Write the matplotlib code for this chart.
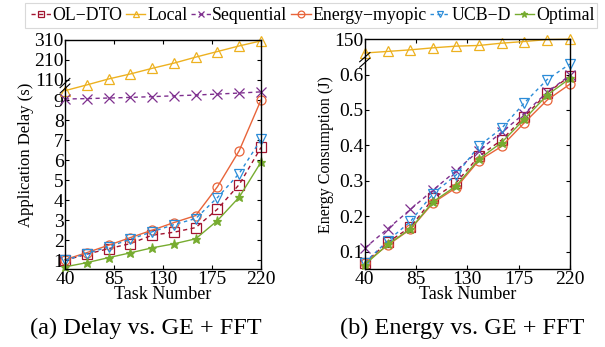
import numpy as np
import matplotlib
matplotlib.use('Agg')
import matplotlib.pyplot as plt
from matplotlib.patches import Rectangle

plt.rcParams['font.family'] = ['Liberation Serif', 'DejaVu Serif']
plt.rcParams['mathtext.fontset'] = 'stix'

tasks = [40, 60, 80, 100, 120, 140, 160, 180, 200, 220]
xticks = [40, 85, 130, 175, 220]

names = ['OL\u2212DTO', 'Local', 'Sequential', 'Energy\u2212myopic', 'UCB\u2212D', 'Optimal']

# delay (s)
delay_oldto = [1.0, 1.3, 1.58, 1.83, 2.25, 2.4, 2.63, 3.55, 4.78, 6.63]
delay_local = [56, 85, 115, 140, 168, 194, 224, 252, 280, 305]
delay_seq = [14, 16, 19, 22, 26, 30, 34, 39, 44, 50]
delay_myopic = [1.03, 1.38, 1.75, 2.13, 2.5, 2.88, 3.23, 4.67, 6.47, 9.0]
delay_ucb = [1.0, 1.33, 1.67, 2.05, 2.42, 2.78, 3.08, 4.13, 5.33, 7.03]
delay_opt = [0.67, 0.88, 1.13, 1.37, 1.62, 1.82, 2.07, 2.98, 4.15, 5.9]
delay_ticks = [1, 2, 3, 4, 5, 6, 7, 8, 9, 110, 210, 310]

# energy (J)
energy_oldto = [0.068, 0.126, 0.169, 0.25, 0.294, 0.369, 0.415, 0.481, 0.548, 0.596]
energy_local = [111, 115.5, 120, 125.7, 130.4, 132.3, 138.8, 143.5, 149, 150]
energy_seq = [0.110, 0.164, 0.219, 0.274, 0.328, 0.385, 0.437, 0.49, 0.55, 0.598]
energy_myopic = [0.067, 0.118, 0.163, 0.238, 0.28, 0.357, 0.397, 0.464, 0.528, 0.573]
energy_ucb = [0.069, 0.130, 0.185, 0.264, 0.316, 0.398, 0.448, 0.52, 0.586, 0.634]
energy_opt = [0.063, 0.12, 0.164, 0.241, 0.285, 0.361, 0.408, 0.474, 0.542, 0.589]
energy_ticks = [0.1, 0.2, 0.3, 0.4, 0.5, 0.6, 150]

styles = [
    dict(color='#A2142F', ls=(0, (3, 2.5)), marker='s', mfc='none'),
    dict(color='#EDB120', ls='-', marker='^', mfc='none'),
    dict(color='#7E2F8E', ls=(0, (3, 2.5)), marker='x', mfc='none'),
    dict(color='#E8643A', ls='-', marker='o', mfc='none'),
    dict(color='#2B8CD8', ls=(0, (2.5, 2.5)), marker='v', mfc='none'),
    dict(color='#77AC30', ls='-', marker='*', mfc='#77AC30'),
]


def broken_scale(v_knots, f_knots):
    fwd = lambda v: np.interp(v, v_knots, f_knots)
    inv = lambda f: np.interp(f, f_knots, v_knots)
    return fwd, inv


fig = plt.figure(figsize=(6.05, 3.47), dpi=100)
ax1 = fig.add_axes([0.1074, 0.224, 0.324, 0.661])
ax2 = fig.add_axes([0.603, 0.224, 0.339, 0.663])

delay_sets = [delay_oldto, delay_local, delay_seq, delay_myopic, delay_ucb, delay_opt]
energy_sets = [energy_oldto, energy_local, energy_seq, energy_myopic, energy_ucb, energy_opt]

handles = []
for name, st, d, e in zip(names, styles, delay_sets, energy_sets):
    h, = ax1.plot(tasks, d, lw=1.0, ms=6.5, mew=0.9, label=name, clip_on=False, **st)
    ax2.plot(tasks, e, lw=1.0, ms=6.5, mew=0.9, clip_on=False, **st)
    handles.append(h)

ax1.set_yscale('function', functions=broken_scale([0, 9, 110, 310, 5000], [0, 9, 10, 12, 59]))
ax1.set_ylim(0.55, 310)
ax1.set_yticks(delay_ticks)
ax1.set_yticklabels([str(t) for t in delay_ticks])
ax1.set_ylabel('Application Delay (s)', fontsize=12, labelpad=0)

ax2.set_yscale('function', functions=broken_scale([0, 0.63, 100, 150, 5000], [0, 0.63, 0.65, 0.70, 5.6]))
ax2.set_ylim(0.05, 150)
ax2.set_yticks(energy_ticks)
ax2.set_yticklabels(['0.1', '0.2', '0.3', '0.4', '0.5', '0.6', '150'])
ax2.set_ylabel('Energy Consumption (J)', fontsize=11.5, labelpad=0)

for ax, brk in ((ax1, 0.80), (ax2, 0.91)):
    ax.set_xlim(40, 220)
    ax.set_xticks(xticks)
    ax.set_xlabel('Task Number', fontsize=13, labelpad=-1)
    ax.tick_params(direction='in', top=True, right=True, labelsize=14, length=3, pad=1)
    for s in ax.spines.values():
        s.set_linewidth(1.0)
    # axis break marks
    for dy in (-0.012, 0.012):
        ax.plot([-0.025, 0.025], [brk + dy - 0.02, brk + dy + 0.02], transform=ax.transAxes,
                color='black', lw=0.8, clip_on=False)

fig.text(30 / 605, 1 - 328 / 347, '(a) Delay vs. GE + FFT', ha='left', va='center', fontsize=17.5)
fig.text(340 / 605, 1 - 328 / 347, '(b) Energy vs. GE + FFT', ha='left', va='center', fontsize=17.5)

fig.patches.append(Rectangle((25 / 605, 1 - 28 / 347), 572 / 605, 25 / 347, transform=fig.transFigure,
                             fill=False, edgecolor='#d9d9d9', lw=0.8))
fig.legend(handles=handles, loc='center left', bbox_to_anchor=(31 / 605, 1 - 15.5 / 347), ncol=6,
           frameon=False, fontsize=12.8, handlelength=1.1, handletextpad=0.1, columnspacing=0.2,
           borderaxespad=0, borderpad=0, markerscale=0.75)

fig.savefig('out.png', dpi=100)
